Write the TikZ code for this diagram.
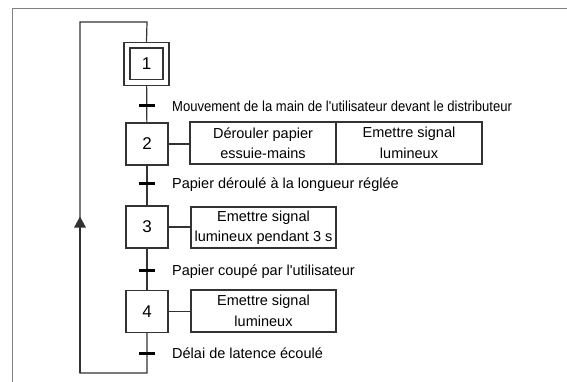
\documentclass[tikz,border=0pt]{standalone}
\usepackage{fontspec}
\setmainfont{Liberation Sans}[Ligatures=TeXReset]
\usetikzlibrary{arrows.meta}
\begin{document}
\begin{tikzpicture}[x=1pt,y=-1pt,
  line/.style={draw=black!80, line width=1.2pt},
  frame/.style={draw=black!50, line width=1.3pt},
  stepbox/.style={draw=black!80, line width=1.3pt, minimum width=42pt, minimum height=42pt, inner sep=0pt, text=black, font=\fontsize{17}{17}\selectfont},
  actbox/.style={draw=black!80, line width=1.3pt, minimum height=42pt, inner sep=0pt, align=center, text=black, font=\fontsize{14.5}{20.5}\selectfont},
  trans/.style={draw=black, line width=3pt},
  lbl/.style={anchor=base west, inner sep=0pt, text=black, font=\fontsize{14.5}{17}\selectfont}
]
\useasboundingbox (0,0) rectangle (567,382);
\fill[white] (0,0) rectangle (567,382);
% outer frame
\draw[frame] (12.5,382) -- (12.5,8.5) -- (567,8.5);

% steps
\node[stepbox, double, double distance=4.5pt, minimum width=39pt, minimum height=37.5pt, outer sep=3.5pt] (s1) at (146.5,64) {1};
\node[stepbox] (s2) at (147,144) {2};
\node[stepbox] (s3) at (147,227) {3};
\node[stepbox] (s4) at (147,311.5) {4};

% actions
\node[actbox, minimum width=146pt] (a2a) at (263,143) {Dérouler papier\\essuie-mains};
\node[actbox, minimum width=146pt] (a2b) at (409,143) {Emettre signal\\lumineux};
\node[actbox, minimum width=145pt, minimum height=41pt] (a3) at (263.5,227.5) {Emettre signal\\lumineux pendant 3 s};
\node[actbox, minimum width=145pt] (a4) at (263.5,311) {Emettre signal\\lumineux};

% main line
\draw[line] (s1) -- (s2);
\draw[line] (s2) -- (s3);
\draw[line] (s3) -- (s4);

% loop
\coordinate (lb) at (80,373);
\coordinate (lt) at (80,22);
\coordinate (tp) at (147,22);
\coordinate (arr) at (80,216.5);
\draw[line, line join=miter] (s4.south) |- (lb) -- (lt) -- (tp) -- (s1.north);
\draw[line, -{Triangle[length=11pt,width=11.5pt]}] (lb) -- (arr);

% action links
\draw[line] (s2.east) -- (s2.east -| a2a.west);
\draw[line] (s3.east) -- (s3.east -| a3.west);
\draw[line] (s4.east) -- (s4.east -| a4.west);

% transitions
\coordinate (t1) at (147,106);
\coordinate (t2) at (147,183.5);
\coordinate (t3) at (147,270);
\coordinate (t4) at (147,353.3);
\foreach \t in {t1,t2,t3,t4}
  \draw[trans] ([xshift=-8pt]\t) -- ([xshift=8pt]\t);

\node[lbl] (l1) at (172,111.2) {\scalebox{0.9}[1]{Mouvement de la main de l'utilisateur devant le distributeur}};
\node[lbl] (l2) at (172,188.7) {Papier déroulé à la longueur réglée};
\node[lbl] (l3) at (172,275.2) {Papier coupé par l'utilisateur};
\node[lbl] (l4) at (172,358.5) {Délai de latence écoulé};
\end{tikzpicture}
\end{document}
